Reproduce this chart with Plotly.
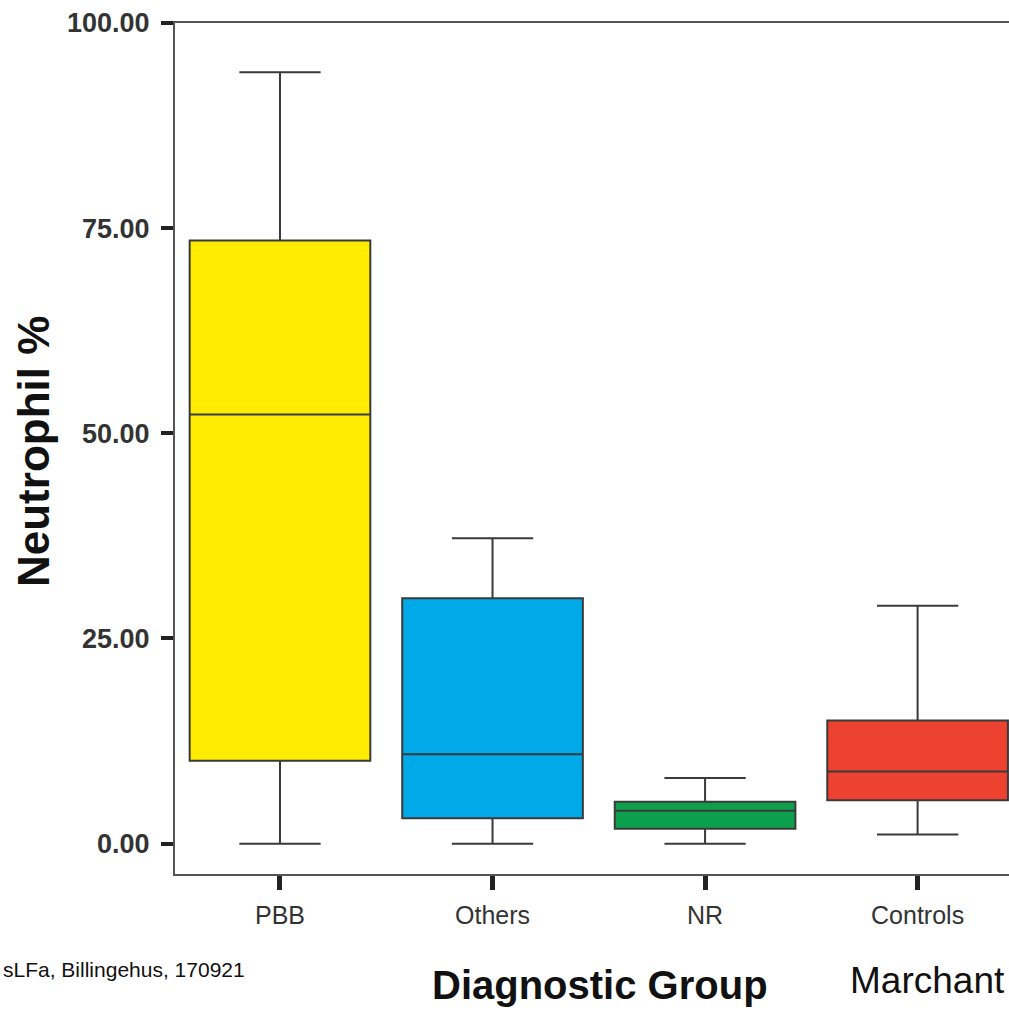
import plotly.graph_objects as go

categories = ["PBB", "Others", "NR", "Controls"]
lower_whisker = [0.0, 0.0, 0.0, 1.1]
q1 = [10.1, 3.1, 1.8, 5.3]
median = [52.3, 10.9, 4.0, 8.8]
q3 = [73.5, 29.9, 5.1, 15.0]
upper_whisker = [94.0, 37.2, 8.0, 29.0]
colors = ["#FFEC00", "#00AAE8", "#0CA04C", "#EE4231"]
y_ticks = [0, 25, 50, 75, 100]
y_tick_labels = ["0.00", "25.00", "50.00", "75.00", "100.00"]

W, H = 1009, 1010
L, R, T, B = 175, 0, 23, 136
PW, PH = W - L - R, H - T - B


def px_x(x):
    return (x - L) / PW


def px_y(y):
    return (H - B - y) / PH


fig = go.Figure()
for i, cat in enumerate(categories):
    fig.add_trace(go.Box(
        x=[cat],
        q1=[q1[i]], median=[median[i]], q3=[q3[i]],
        lowerfence=[lower_whisker[i]], upperfence=[upper_whisker[i]],
        fillcolor=colors[i],
        line=dict(color="#3a3a3a", width=2),
        width=0.85,
        whiskerwidth=0.45,
        boxpoints=False,
        showlegend=False,
        hoverinfo="skip",
    ))

axis_color = "#555555"
fig.update_layout(
    width=W, height=H,
    margin=dict(l=L, r=R, t=T, b=B),
    plot_bgcolor="white", paper_bgcolor="white",
    font=dict(family="Liberation Sans, Arial, sans-serif", color="#333333"),
    xaxis=dict(
        type="category",
        categoryorder="array", categoryarray=categories,
        range=[-0.494, 3.43],
        showline=True, linecolor=axis_color, linewidth=2, mirror=True,
        ticks="outside", ticklen=14, tickwidth=5, tickcolor="#222222",
        tickfont=dict(size=25, color="#333333"),
        ticklabelstandoff=4,
        showgrid=False, zeroline=False,
    ),
    yaxis=dict(
        range=[-3.7, 100],
        tickmode="array", tickvals=y_ticks, ticktext=y_tick_labels,
        showline=True, linecolor=axis_color, linewidth=2, mirror=False,
        ticks="outside", ticklen=12, tickwidth=4, tickcolor="#222222",
        tickfont=dict(size=27, color="#333333", weight="bold"),
        ticklabelstandoff=6,
        showgrid=False, zeroline=False,
    ),
    annotations=[
        dict(text="<b>Neutrophil %</b>", xref="paper", yref="paper",
             x=px_x(33), y=px_y(452), xanchor="center", yanchor="middle", textangle=-90,
             showarrow=False, font=dict(size=44, color="#111111")),
        dict(text="<b>Diagnostic Group</b>", xref="paper", yref="paper",
             x=px_x(600), y=px_y(985), xanchor="center", yanchor="middle",
             showarrow=False, font=dict(size=40, color="#111111")),
        dict(text="sLFa, Billingehus, 170921", xref="paper", yref="paper",
             x=px_x(1), y=px_y(969), xanchor="left", yanchor="middle",
             showarrow=False, font=dict(size=21, color="#111111")),
        dict(text="Marchant", xref="paper", yref="paper",
             x=px_x(1007), y=px_y(980), xanchor="right", yanchor="middle",
             showarrow=False, font=dict(size=37, color="#111111")),
    ],
)

fig.write_html(
    "out.html",
    config={"displayModeBar": False},
    post_script="document.body.style.margin='0px';document.body.style.overflow='hidden';",
)
